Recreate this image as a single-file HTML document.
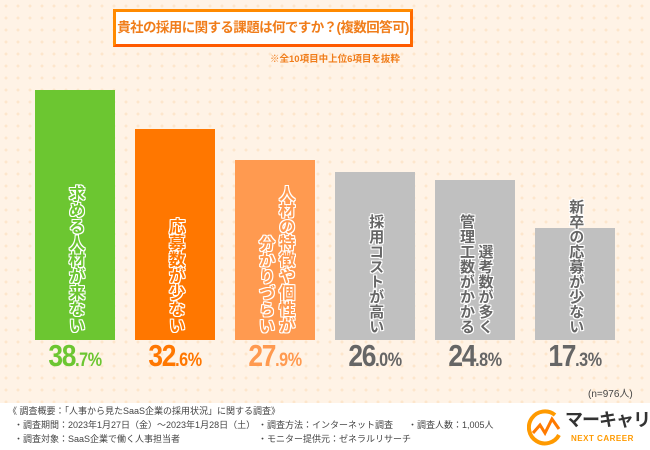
<!DOCTYPE html>
<html><head><meta charset="utf-8"><style>
*{margin:0;padding:0;box-sizing:border-box}
body{width:650px;height:450px;overflow:hidden;background:#fff3e6;font-family:"Liberation Sans","Noto Sans CJK JP",sans-serif;position:relative}
#bg{position:absolute;left:0;top:0;width:650px;height:403px;background-image:radial-gradient(circle,#fde6cc 1.3px,transparent 1.6px);background-size:12px 12px}
#title{position:absolute;left:113px;top:9px;width:300px;height:38px;border:3px solid #ff8a00;border-bottom-color:#ff5a00;border-right-color:#ff6a00;background:#fff;text-align:center;line-height:32px;font-size:13.5px;font-weight:bold;color:#f07d1a;white-space:nowrap;letter-spacing:-0.6px}
#note{position:absolute;left:270px;top:51px;font-size:9.5px;font-weight:bold;color:#f07d1a;white-space:nowrap}
.bar{position:absolute}
.lab{position:absolute;display:flex;flex-direction:row-reverse;justify-content:center;align-items:flex-end;font-weight:bold}
.lab span{writing-mode:vertical-rl;white-space:nowrap;line-height:1.1;margin:0 1px}
.val{position:absolute;top:338px;width:100px;text-align:center;font-weight:bold;font-size:31px;letter-spacing:-1.5px;white-space:nowrap;transform:scaleX(0.85)}
.val small{font-size:19px;letter-spacing:-0.5px}
#n{position:absolute;left:588px;top:385px;font-size:10px;color:#444;white-space:nowrap}
#footer{position:absolute;left:0;top:403px;width:650px;height:47px;background:#fff;font-size:9px;color:#444;line-height:12px;white-space:nowrap}
</style></head><body>
<div id="bg"></div>
<div id="title">貴社の採用に関する課題は何ですか？(複数回答可)</div>
<div id="note">※全10項目中上位6項目を抜粋</div>
<div id="chart"></div>
<div id="n">(n=976人)</div>
<div id="footer">
<div style="position:absolute;left:8px;top:2px">《 調査概要：「人事から見たSaaS企業の採用状況」に関する調査》</div>
<div style="position:absolute;left:14px;top:16px">・調査期間：2023年1月27日（金）～2023年1月28日（土）</div>
<div style="position:absolute;left:14px;top:30px">・調査対象：SaaS企業で働く人事担当者</div>
<div style="position:absolute;left:258px;top:16px">・調査方法：インターネット調査</div>
<div style="position:absolute;left:258px;top:30px">・モニター提供元：ゼネラルリサーチ</div>
<div style="position:absolute;left:408px;top:16px">・調査人数：1,005人</div>
<div style="position:absolute;left:527px;top:4px;width:120px;height:42px">
<svg width="36" height="38" style="position:absolute;left:0;top:2px"><path d="M28 6 A16 16 0 1 0 32 26" fill="none" stroke="#ff9a00" stroke-width="4"/><path d="M6 24 L13 16 L18 24 L25 10 L32 20" fill="none" stroke="#ff7a00" stroke-width="3"/></svg>
<div style="position:absolute;left:38px;top:2px;font-size:18px;font-weight:bold;color:#333;line-height:22px;letter-spacing:-1px">マーキャリ</div>
<div style="position:absolute;left:44px;top:26px;font-size:8px;font-weight:bold;color:#ff9a00;letter-spacing:0.5px">NEXT CAREER</div>
</div>
</div>
<script>
const categories=["求める人材が来ない","応募数が少ない","人材の特徴や個性が|分かりづらい","採用コストが高い","選考数が多く|管理工数がかかる","新卒の応募が少ない"];
const values=[38.7,32.6,27.9,26.0,24.8,17.3];
const colors=["#6cc631","#ff7700","#ff9a50","#c0c0c0","#c0c0c0","#c0c0c0"];
const valColors=["#6cc631","#ff7700","#ff9a50","#666","#666","#666"];
const baseY=340, pxPer=6.46, x0=35, step=100, bw=80;
const y=v=>baseY-v*pxPer;
const chart=document.getElementById('chart');
values.forEach((v,i)=>{
  const b=document.createElement('div');
  
  
  b.className='bar';
  b.style.cssText=`left:${x0+i*step}px;top:${y(v)}px;width:${bw}px;height:${baseY-y(v)}px;background:${colors[i]}`;
  chart.appendChild(b);
  const l=document.createElement('div');
  
  
  l.className='lab';
  const gray=i>=3;
  const fs=gray?15:16.5;
  l.style.cssText=`left:${x0+i*step}px;top:${y(v)}px;width:${bw}px;height:${baseY-y(v)-6}px;font-size:${fs}px;color:${gray?'#666':colors[i]};`;
  l.style.textShadow='1px 0 #fff,-1px 0 #fff,0 1px #fff,0 -1px #fff,1px 1px #fff,-1px -1px #fff,1px -1px #fff,-1px 1px #fff';
  categories[i].split('|').forEach(c=>{const s=document.createElement('span');s.textContent=c;l.appendChild(s);});
  chart.appendChild(l);
  const t=document.createElement('div');
  
  
  t.className='val';
  t.style.left=(x0-10+i*step)+'px';
  t.style.color=valColors[i];
  const parts=v.toFixed(1).split('.');
  t.innerHTML=parts[0]+'<small>.'+parts[1]+'%</small>';
  chart.appendChild(t);
});
</script>
</body></html>
